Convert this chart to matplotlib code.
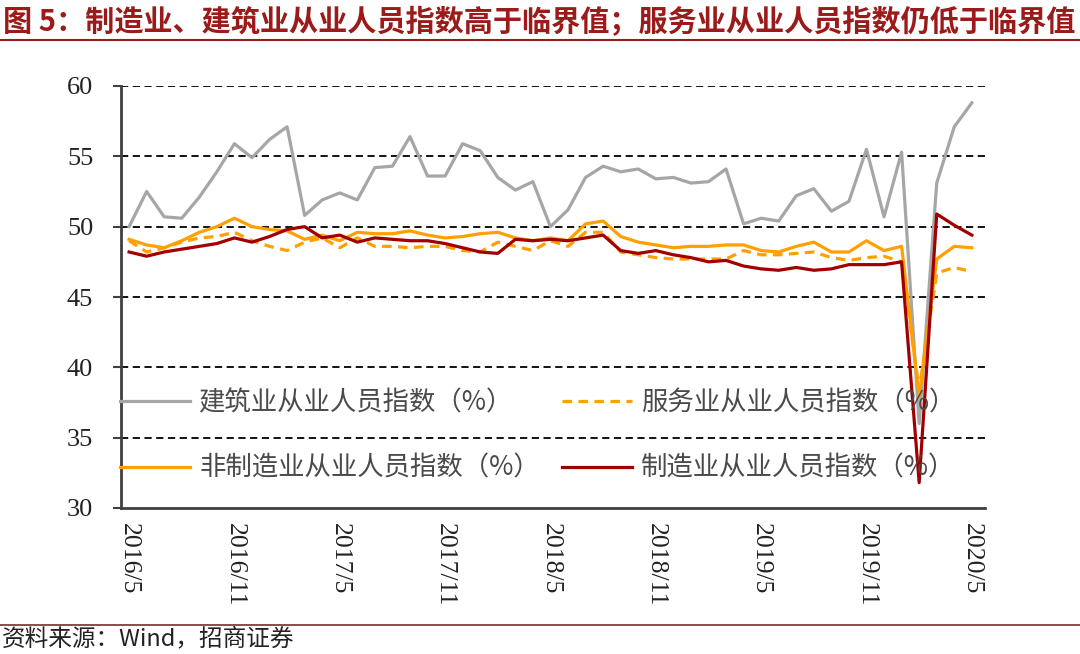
import matplotlib
matplotlib.use("Agg")
import matplotlib.pyplot as plt
from matplotlib.lines import Line2D

plt.rcParams['font.family'] = ['Noto Sans CJK SC', 'DejaVu Sans']

months = [f"{2016 + (4 + i) // 12}/{(4 + i) % 12 + 1}" for i in range(49)]
tick_idx = list(range(0, 49, 6))

construction = [50.0, 52.5, 50.7, 50.6, 52.1, 53.9, 55.9, 54.9, 56.2, 57.1,
                50.8, 51.9, 52.4, 51.9, 54.2, 54.3, 56.4, 53.6, 53.6, 55.9,
                55.4, 53.5, 52.6, 53.2, 50.0, 51.2, 53.5, 54.3, 53.9, 54.1,
                53.4, 53.5, 53.1, 53.2, 54.1, 50.2, 50.6, 50.4, 52.2, 52.7,
                51.1, 51.8, 55.5, 50.7, 55.3, 36.0, 53.1, 57.1, 58.8]
services = [49.0, 48.2, 48.5, 48.9, 49.2, 49.3, 49.6, 49.0, 48.6, 48.3,
            48.9, 49.2, 48.5, 49.2, 48.6, 48.6, 48.5, 48.6, 48.6, 48.3,
            48.2, 48.9, 48.6, 48.3, 49.0, 48.6, 49.6, 49.6, 48.2, 48.0,
            47.8, 47.7, 47.7, 47.7, 47.7, 48.3, 48.0, 48.0, 48.1, 48.2,
            47.8, 47.6, 47.8, 47.9, 47.5, 38.4, 46.7, 47.1, 46.8]
non_manufacturing = [49.1, 48.7, 48.5, 49.0, 49.6, 50.0, 50.6, 50.0, 49.8, 49.7,
                     49.1, 49.4, 49.0, 49.6, 49.5, 49.5, 49.7, 49.4, 49.2, 49.3,
                     49.5, 49.6, 49.2, 49.0, 49.2, 49.0, 50.2, 50.4, 49.3, 48.9,
                     48.7, 48.5, 48.6, 48.6, 48.7, 48.7, 48.3, 48.2, 48.6, 48.9,
                     48.2, 48.2, 49.0, 48.3, 48.6, 37.9, 47.7, 48.6, 48.5]
manufacturing = [48.2, 47.9, 48.2, 48.4, 48.6, 48.8, 49.2, 48.9, 49.3, 49.8,
                 50.0, 49.2, 49.4, 48.9, 49.2, 49.1, 49.0, 49.0, 48.8, 48.5,
                 48.2, 48.1, 49.1, 49.0, 49.1, 49.0, 49.2, 49.4, 48.3, 48.1,
                 48.3, 48.0, 47.8, 47.5, 47.6, 47.2, 47.0, 46.9, 47.1, 46.9,
                 47.0, 47.3, 47.3, 47.3, 47.5, 31.8, 50.9, 50.1, 49.4]

series_labels = ["建筑业从业人员指数（%）", "服务业从业人员指数（%）",
                 "非制造业从业人员指数（%）", "制造业从业人员指数（%）"]

GRAY = "#A6A6A6"
ORANGE = "#FFA000"
DARKRED = "#A00000"
TITLE_RED = "#9B1B1B"

fig = plt.figure(figsize=(10.8, 6.54), dpi=100)
ax = fig.add_axes([121 / 1080, (654 - 508) / 654, (985 - 121) / 1080, (508 - 86) / 654])

x = list(range(len(months)))
lw = 2.3
l_con, = ax.plot(x, construction, color=GRAY, lw=lw, zorder=3)
l_ser, = ax.plot(x, services, color=ORANGE, lw=lw, ls=(0, (3, 2)), zorder=3)
l_non, = ax.plot(x, non_manufacturing, color=ORANGE, lw=lw, zorder=4)
l_man, = ax.plot(x, manufacturing, color=DARKRED, lw=lw, zorder=5)

ax.set_xlim(-0.46, 48.75)
ax.set_ylim(30, 60)
ax.set_yticks([30, 35, 40, 45, 50, 55, 60])
for yv in [35, 40, 45, 50, 55, 60]:
    ax.axhline(yv, color="black", lw=1.3, ls=(0, (4, 2.5)), zorder=1)

ax.set_xticks(tick_idx)
ax.set_xticklabels([months[i] for i in tick_idx], rotation=-90,
                   family="Liberation Serif", fontsize=18.5, color="#222222")
for lab in ax.get_yticklabels():
    lab.set_family("Liberation Serif")
    lab.set_fontsize(19)
    lab.set_color("#222222")
ax.tick_params(axis="x", length=0, pad=11)
ax.tick_params(axis="y", direction="out", length=6, width=1.5, color="#404040", pad=14)

for s in ["top", "right"]:
    ax.spines[s].set_visible(False)
for s in ["left", "bottom"]:
    ax.spines[s].set_color("#404040")
    ax.spines[s].set_linewidth(2)

leg = ax.legend([l_con, l_non, l_ser, l_man],
                [series_labels[0], series_labels[2], series_labels[1], series_labels[3]],
                ncol=2, frameon=False, loc="center left",
                bbox_to_anchor=(-0.001, 0.172), fontsize=19,
                handlelength=2.65, handletextpad=0.34, columnspacing=0.85,
                labelspacing=1.47, borderpad=0, borderaxespad=0,
                labelcolor="#4a4a4a")

fig.text(0.003, 0.967, "图 5：制造业、建筑业从业人员指数高于临界值；服务业从业人员指数仍低于临界值",
         fontsize=21, fontweight="bold", color=TITLE_RED, va="center", ha="left")
fig.add_artist(Line2D([0, 1], [1 - 40 / 654, 1 - 40 / 654], color=TITLE_RED, lw=1.5,
                      transform=fig.transFigure))
fig.add_artist(Line2D([0, 1], [1 - 625 / 654, 1 - 625 / 654], color="#7B2B2B", lw=1.2,
                      transform=fig.transFigure))
fig.text(0.002, 1 - 639 / 654, "资料来源：Wind，招商证券", fontsize=17,
         color="#222222", va="center", ha="left")

fig.savefig("out.png", dpi=100)
